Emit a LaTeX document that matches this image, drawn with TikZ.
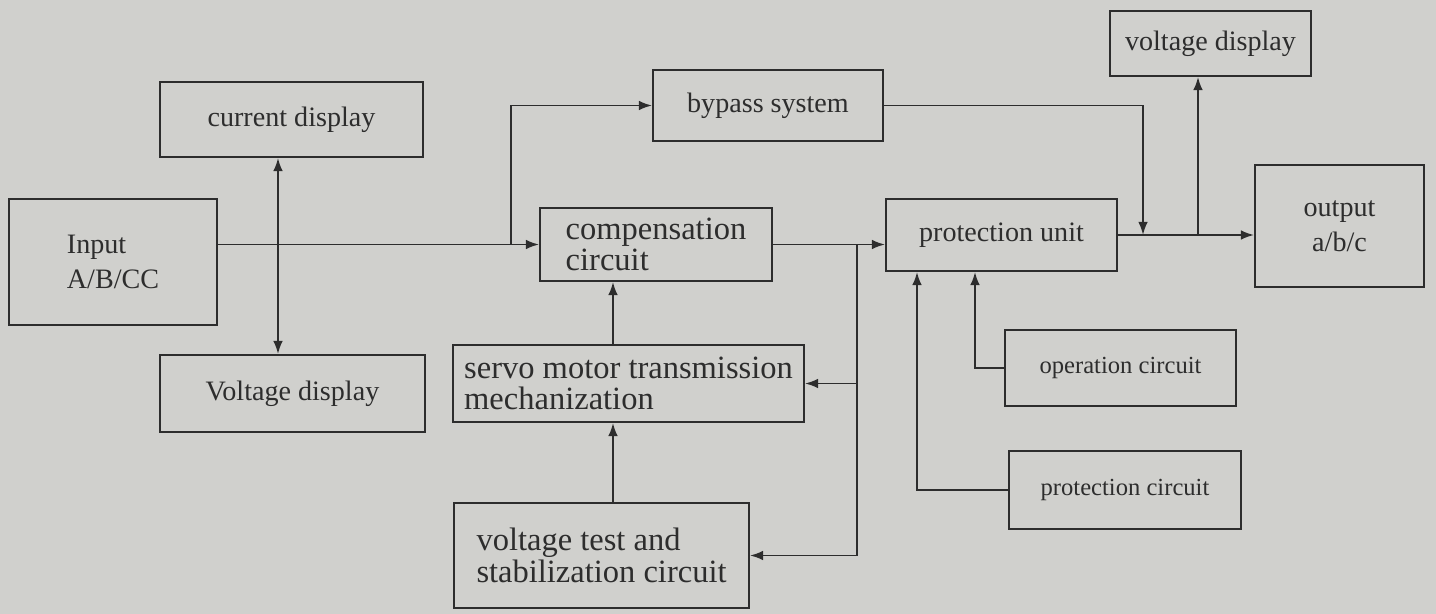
\documentclass[tikz,border=0pt]{standalone}
\usepackage{fontspec}
\setmainfont{Liberation Serif}
\usetikzlibrary{arrows.meta}
\definecolor{paper}{RGB}{208,208,205}
\definecolor{ink}{RGB}{45,45,45}
\tikzset{
  box/.style={draw=ink, text=ink, inner sep=0pt, align=center,
    font=\fontsize{16}{20}\selectfont},
  bigbox/.style={box, align=left, font=\fontsize{18.5}{18}\selectfont},
  smallbox/.style={box, font=\fontsize{14}{17}\selectfont},
  link/.style={draw=ink, -{Latex[length=7.5pt,width=5.5pt]}},
}

\begin{document}
\begin{tikzpicture}[x=0.02cm, y=-0.02cm, line width=1.1pt]
  \fill[paper] (0,0) rectangle (1436,614);
  \useasboundingbox (0,0) rectangle (1436,614);

  % left side
  \node[box, minimum width=4.16cm, minimum height=2.52cm, align=left] (inp) at (113,262) {Input\\A/B/CC};
  \node[box, minimum width=5.26cm, minimum height=1.5cm]  (cur)   at (291.5,119.5) {current display};
  \node[box, minimum width=5.3cm,  minimum height=1.54cm] (vleft) at (292.5,393.5) {Voltage display};

  % middle column
  \node[box, minimum width=4.6cm, minimum height=1.42cm] (byp) at (768,105.5) {bypass system};
  \node[bigbox, minimum width=4.64cm, minimum height=1.46cm] (comp) at (656,244.5) {compensation\\circuit};
  \node[bigbox, minimum width=7.02cm, minimum height=1.54cm] (servo) at (628.5,383.5) {servo motor transmission\\mechanization};
  \node[bigbox, minimum width=5.9cm, minimum height=2.1cm, font=\fontsize{18.5}{18.5}\selectfont] (vtest) at (601.5,555.5) {voltage test and\\stabilization circuit};

  % right side
  \node[box, minimum width=4.62cm, minimum height=1.44cm] (prot)   at (1001.5,235) {protection unit};
  \node[box, minimum width=4.02cm, minimum height=1.3cm]  (vright) at (1210.5,43.5) {voltage display};
  \node[box, minimum width=3.38cm, minimum height=2.44cm] (outp)   at (1339.5,226) {output\\a/b/c};
  \node[smallbox, minimum width=4.62cm, minimum height=1.52cm] (oper)  at (1120.5,368) {operation circuit};
  \node[smallbox, minimum width=4.64cm, minimum height=1.56cm] (pcirc) at (1125,490) {protection circuit};

  % x positions of the vertical runs
  \coordinate (xc) at (278,0);
  \coordinate (xs) at (613,0);
  \coordinate (xb) at (1143,0);
  \coordinate (xv) at (1198,0);
  \coordinate (xo) at (975,0);
  \coordinate (xp) at (917,0);
  \coordinate (j1) at (511,244.5);
  \coordinate (j2) at (857,244.5);

  \draw[link] (inp.east |- comp.west) -- (comp.west);
  \draw[link] (j1) |- (byp.west);
  \draw[link, {Latex[length=7.5pt,width=5.5pt]}-{Latex[length=7.5pt,width=5.5pt]}] (cur.south -| xc) -- (vleft.north -| xc);
  \draw[link] (comp.east) -- (comp.east -| prot.west);
  \draw[link] (j2) |- (servo.east);
  \draw[link] (j2) |- (vtest.east);
  \draw[link] (servo.north -| xs) -- (comp.south -| xs);
  \draw[link] (vtest.north -| xs) -- (servo.south -| xs);
  \draw[link] (byp.east) -| (prot.east -| xb);
  \draw[link] (prot.east) -- (prot.east -| outp.west);
  \draw[link] (prot.east -| xv) -- (vright.south -| xv);
  \draw[link] (oper.west) -| (prot.south -| xo);
  \draw[link] (pcirc.west) -| (prot.south -| xp);
\end{tikzpicture}
\end{document}
